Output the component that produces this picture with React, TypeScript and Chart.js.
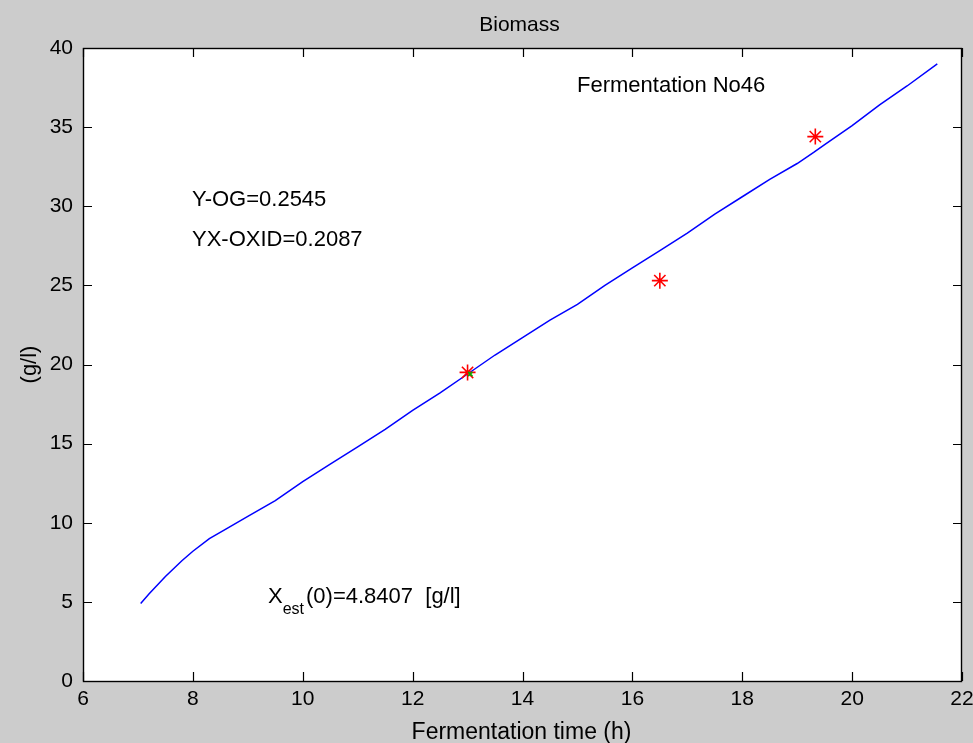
import React, { useEffect, useRef } from "react";
import { Chart, registerables } from "chart.js";

Chart.register(...registerables);

// ---- data ----
const fitTime = [7.05, 7.2, 7.5, 7.8, 8.0, 8.3, 8.6, 9.0, 9.5, 10.0, 10.5, 11.0, 11.5, 12.0, 12.5, 13.0, 13.5, 14.0, 14.5, 15.0, 15.5, 16.0, 16.5, 17.0, 17.5, 18.0, 18.5, 19.0, 19.3, 19.5, 20.0, 20.5, 21.0, 21.55];
const fitBiomass = [4.9, 5.5, 6.6, 7.6, 8.2, 9.0, 9.6, 10.4, 11.4, 12.6, 13.7, 14.8, 15.9, 17.1, 18.2, 19.4, 20.6, 21.7, 22.8, 23.8, 25.0, 26.1, 27.2, 28.3, 29.5, 30.6, 31.7, 32.7, 33.4, 33.9, 35.1, 36.4, 37.6, 39.0];
const measTime = [13.0, 16.5, 19.33];
const measBiomass = [19.5, 25.3, 34.4];
const initTime = [13.05];
const initBiomass = [19.4];
const xTicks = [6, 8, 10, 12, 14, 16, 18, 20, 22];
const yTicks = [0, 5, 10, 15, 20, 25, 30, 35, 40];

const titleText = "Biomass";
const xLabel = "Fermentation time (h)";
const yLabel = "(g/l)";
const noteFermentation = "Fermentation No46";
const noteYOG = "Y-OG=0.2545";
const noteYXOXID = "YX-OXID=0.2087";
const noteXMain = "X";
const noteXSub = "est";
const noteXRest = "(0)=4.8407  [g/l]";

const FONT = '"Liberation Sans", Arial, Helvetica, sans-serif';

const matlabPlugin = {
  id: "matlabLook",
  beforeDraw(chart: any) {
    const { ctx, chartArea: a, width, height } = chart;
    ctx.save();
    ctx.fillStyle = "#cccccc";
    ctx.fillRect(0, 0, width, height);
    ctx.fillStyle = "#ffffff";
    ctx.fillRect(a.left, a.top, a.right - a.left, a.bottom - a.top);
    ctx.restore();
  },
  afterDraw(chart: any) {
    const { ctx, chartArea: a } = chart;
    const xs = chart.scales.x;
    const ys = chart.scales.y;
    ctx.save();
    // frame
    ctx.strokeStyle = "#000000";
    ctx.lineWidth = 1.4;
    ctx.strokeRect(a.left + 0.5, a.top + 0.5, a.right - a.left - 1, a.bottom - a.top);
    // ticks (inward, all four sides)
    const tl = 9;
    ctx.lineWidth = 1.2;
    ctx.beginPath();
    xTicks.forEach((v) => {
      const px = Math.round(xs.getPixelForValue(v)) + 0.5;
      ctx.moveTo(px, a.bottom);
      ctx.lineTo(px, a.bottom - tl);
      ctx.moveTo(px, a.top);
      ctx.lineTo(px, a.top + tl);
    });
    yTicks.forEach((v) => {
      const py = Math.round(ys.getPixelForValue(v)) + 0.5;
      ctx.moveTo(a.left, py);
      ctx.lineTo(a.left + tl, py);
      ctx.moveTo(a.right, py);
      ctx.lineTo(a.right - tl, py);
    });
    ctx.stroke();

    // texts
    ctx.fillStyle = "#000000";
    ctx.textBaseline = "alphabetic";
    // title
    ctx.font = `21px ${FONT}`;
    ctx.textAlign = "center";
    ctx.fillText(titleText, (a.left + a.right) / 2 - 3, 31);
    // x label
    ctx.font = `23px ${FONT}`;
    ctx.fillText(xLabel, (a.left + a.right) / 2 - 1, 739);
    // y label
    ctx.save();
    ctx.translate(36, (a.top + a.bottom) / 2);
    ctx.rotate(-Math.PI / 2);
    ctx.font = `22px ${FONT}`;
    ctx.textAlign = "center";
    ctx.fillText(yLabel, 0, 0);
    ctx.restore();

    // annotations
    ctx.textAlign = "left";
    ctx.font = `22px ${FONT}`;
    ctx.fillText(noteFermentation, 577, 92);
    ctx.fillText(noteYOG, 192, 206);
    ctx.fillText(noteYXOXID, 192, 246);
    let x = 268;
    ctx.fillText(noteXMain, x, 603);
    x += ctx.measureText(noteXMain).width;
    ctx.font = `16px ${FONT}`;
    ctx.fillText(noteXSub, x, 614);
    x += ctx.measureText(noteXSub).width + 2;
    ctx.font = `22px ${FONT}`;
    ctx.fillText(noteXRest, x, 603);
    ctx.restore();
  },
};

export default function App() {
  const ref = useRef<HTMLCanvasElement | null>(null);

  useEffect(() => {
    if (!ref.current) return;
    const chart = new Chart(ref.current, {
      type: "scatter",
      data: {
        datasets: [
          {
            label: "init",
            data: initTime.map((t, i) => ({ x: t, y: initBiomass[i] })),
            pointStyle: "crossRot",
            pointRadius: 3,
            borderColor: "#00b000",
            backgroundColor: "#00b000",
            borderWidth: 1.5,
            showLine: false,
            order: 1,
          },
          {
            label: "measured",
            data: measTime.map((t, i) => ({ x: t, y: measBiomass[i] })),
            pointStyle: "star",
            pointRadius: 8,
            borderColor: "#ff0000",
            backgroundColor: "#ff0000",
            borderWidth: 1.6,
            showLine: false,
            order: 2,
          },
          {
            label: "fit",
            data: fitTime.map((t, i) => ({ x: t, y: fitBiomass[i] })),
            showLine: true,
            borderColor: "#0000ff",
            borderWidth: 1.5,
            pointRadius: 0,
            tension: 0,
            fill: false,
            order: 3,
          },
        ],
      },
      options: {
        responsive: false,
        animation: false,
        events: [],
        layout: { padding: { top: 48, right: 11, left: 0, bottom: 0 } },
        plugins: {
          legend: { display: false },
          tooltip: { enabled: false },
          title: { display: false },
        },
        scales: {
          x: {
            type: "linear",
            min: 6,
            max: 22,
            afterFit: (s: any) => {
              s.height = 62;
              s.paddingLeft = 0;
              s.paddingRight = 0;
            },
            afterBuildTicks: (s: any) => {
              s.ticks = xTicks.map((v) => ({ value: v }));
            },
            grid: { display: false, drawTicks: false },
            border: { display: false },
            ticks: {
              padding: 6,
              color: "#000000",
              font: { family: FONT, size: 21 },
              maxRotation: 0,
              autoSkip: false,
            },
          },
          y: {
            type: "linear",
            min: 0,
            max: 40,
            afterFit: (s: any) => {
              s.width = 83;
              s.paddingTop = 0;
              s.paddingBottom = 0;
            },
            afterBuildTicks: (s: any) => {
              s.ticks = yTicks.map((v) => ({ value: v }));
            },
            grid: { display: false, drawTicks: false },
            border: { display: false },
            ticks: {
              padding: 10,
              color: "#000000",
              font: { family: FONT, size: 21 },
              autoSkip: false,
            },
          },
        },
      },
      plugins: [matlabPlugin],
    });
    return () => chart.destroy();
  }, []);

  return (
    <div style={{ position: "absolute", left: 0, top: 0, width: 973, height: 743, background: "#cccccc" }}>
      <canvas ref={ref} width={973} height={743} style={{ display: "block" }} />
    </div>
  );
}
